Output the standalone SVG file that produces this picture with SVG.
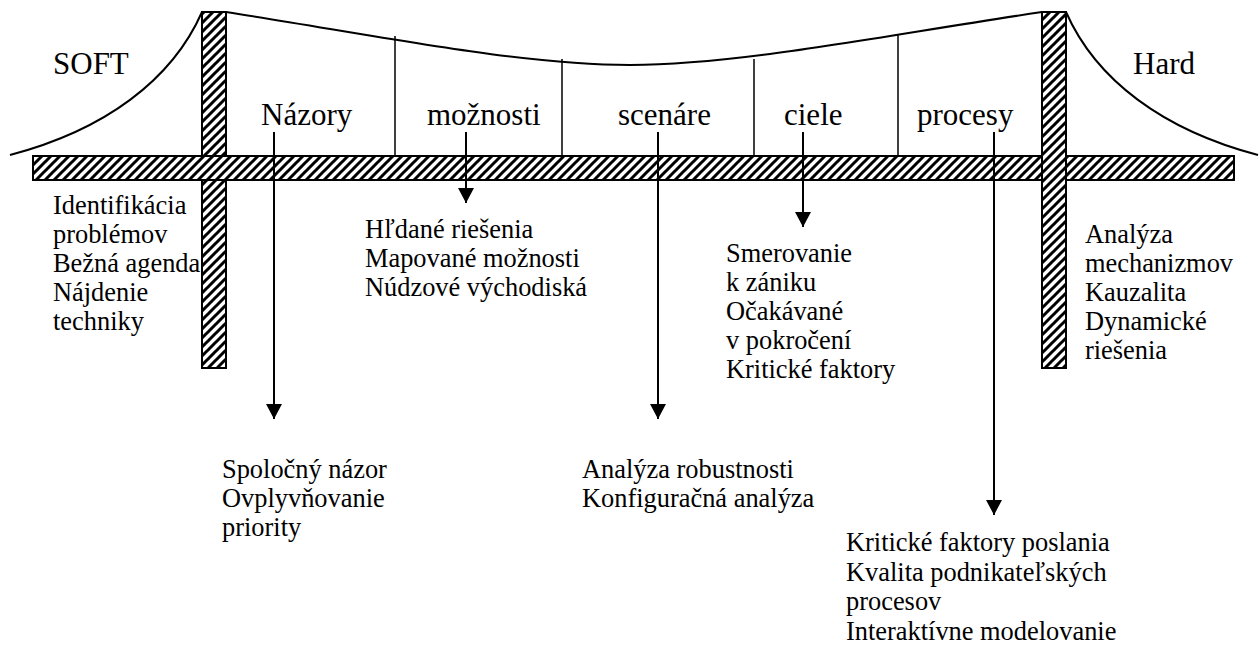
<svg xmlns="http://www.w3.org/2000/svg" width="1260" height="645" viewBox="0 0 1260 645">
<defs>
<pattern id="hatch" patternUnits="userSpaceOnUse" width="9" height="9">
<rect width="9" height="9" fill="#fff"/>
<path d="M-2,2 L2,-2 M0,9 L9,0 M7,11 L11,7" stroke="#000" stroke-width="3"/>
</pattern>
<marker id="arr" markerWidth="16" markerHeight="16" refX="15" refY="8" orient="auto" markerUnits="userSpaceOnUse">
<path d="M0,0 L15,8 L0,16 Z" fill="#000"/>
</marker>
</defs>
<style>
.big{font-family:"Liberation Serif","Times New Roman",serif;font-size:31px;fill:#000}
.txt{font-family:"Liberation Serif","Times New Roman",serif;font-size:26.4px;fill:#000}
.ln{fill:none;stroke:#000;stroke-width:2}
.thin{fill:none;stroke:#000;stroke-width:1.5}
.hatch{fill:url(#hatch);stroke:#000;stroke-width:2}
</style>
<rect width="1260" height="645" fill="#fff"/>
<g id="cables">
<path class="ln" d="M10,155 C105,130 172,80 202,12"/>
<path class="ln" d="M1066,12 C1096,80 1163,130 1258,155"/>
<path class="ln" d="M226,12 C380,36 520,65 630,65 C740,65 880,36 1042,12"/>
<line class="thin" x1="395" y1="36" x2="395" y2="156"/>
<line class="thin" x1="562" y1="59" x2="562" y2="156"/>
<line class="thin" x1="754" y1="59" x2="754" y2="156"/>
<line class="thin" x1="898" y1="35" x2="898" y2="156"/>
</g>
<g id="left-tower"><rect class="hatch" x="202" y="12" width="24" height="356"/></g>
<g id="bridge-deck"><rect class="hatch" x="33" y="156" width="1201" height="24"/></g>
<g id="right-tower"><rect class="hatch" x="1042" y="12" width="24" height="356"/></g>
<g id="connectors">
<line class="ln" x1="274" y1="132" x2="274" y2="419" marker-end="url(#arr)"/>
<line class="ln" x1="466" y1="132" x2="466" y2="203" marker-end="url(#arr)"/>
<line class="ln" x1="658" y1="132" x2="658" y2="419" marker-end="url(#arr)"/>
<line class="ln" x1="803" y1="132" x2="803" y2="227" marker-end="url(#arr)"/>
<line class="ln" x1="994" y1="132" x2="994" y2="515" marker-end="url(#arr)"/>
</g>
<g id="soft"><text class="big" x="53" y="74">SOFT</text></g>
<g id="hard"><text class="big" x="1133" y="74">Hard</text></g>
<g id="nazory"><text class="big" x="261" y="125">Názory</text></g>
<g id="moznosti"><text class="big" x="427" y="125">možnosti</text></g>
<g id="scenare"><text class="big" x="618" y="125">scenáre</text></g>
<g id="ciele"><text class="big" x="784" y="125">ciele</text></g>
<g id="procesy"><text class="big" x="917" y="125">procesy</text></g>
<g id="soft-items"><text class="txt" x="53" y="214"><tspan x="53">Identifikácia</tspan><tspan x="53" dy="29">problémov</tspan><tspan x="53" dy="29">Bežná agenda</tspan><tspan x="53" dy="29">Nájdenie</tspan><tspan x="53" dy="29">techniky</tspan></text></g>
<g id="nazory-items"><text class="txt" x="222" y="478"><tspan x="222">Spoločný názor</tspan><tspan x="222" dy="29">Ovplyvňovanie</tspan><tspan x="222" dy="29">priority</tspan></text></g>
<g id="moznosti-items"><text class="txt" x="365" y="238"><tspan x="365">Hľdané riešenia</tspan><tspan x="365" dy="29">Mapované možnosti</tspan><tspan x="365" dy="29">Núdzové východiská</tspan></text></g>
<g id="scenare-items"><text class="txt" x="582" y="478"><tspan x="582">Analýza robustnosti</tspan><tspan x="582" dy="29">Konfiguračná analýza</tspan></text></g>
<g id="ciele-items"><text class="txt" x="726" y="262"><tspan x="726">Smerovanie</tspan><tspan x="726" dy="29">k zániku</tspan><tspan x="726" dy="29">Očakávané</tspan><tspan x="726" dy="29">v pokročení</tspan><tspan x="726" dy="29">Kritické faktory</tspan></text></g>
<g id="procesy-items"><text class="txt" x="846" y="551"><tspan x="846">Kritické faktory poslania</tspan><tspan x="846" dy="29.5">Kvalita podnikateľských</tspan><tspan x="846" dy="29.5">procesov</tspan><tspan x="846" dy="29.5">Interaktívne modelovanie</tspan></text></g>
<g id="hard-items"><text class="txt" x="1085" y="243"><tspan x="1085">Analýza</tspan><tspan x="1085" dy="29">mechanizmov</tspan><tspan x="1085" dy="29">Kauzalita</tspan><tspan x="1085" dy="29">Dynamické</tspan><tspan x="1085" dy="29">riešenia</tspan></text></g>
</svg>
